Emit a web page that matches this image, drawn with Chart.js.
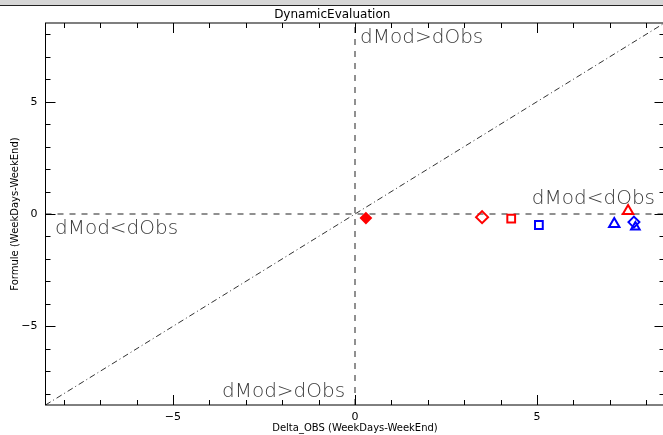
<!DOCTYPE html>
<html>
<head>
<meta charset="utf-8">
<title>DynamicEvaluation</title>
<script src="https://cdn.jsdelivr.net/npm/chart.js@4.4.1/dist/chart.umd.min.js"></script>
<style>
  html, body { margin: 0; padding: 0; background: #fff; overflow: hidden; }
  .topbar { height: 5px; background: #d6d6d6; border-bottom: 1px solid #222; }
  .chart-wrap { width: 666px; height: 429px; }
</style>
</head>
<body>
<div class="topbar"></div>
<div class="chart-wrap"><canvas id="chartEval" width="666" height="429"></canvas></div>
<script>
// =========================================
// Dynamic evaluation – weekday vs weekend deltas
// =========================================

// ---- Data ----
const axisRange   = [-8.5, 8.5];
const labelTicks  = [-5, 0, 5];
const minorTicks  = [-8, -7, -6, -5, -4, -3, -2, -1, 0, 1, 2, 3, 4, 5, 6, 7, 8];

// red run: obs delta / model delta
const redObs  = [0.30, 3.49, 4.29, 7.50];
const redMod  = [-0.18, -0.14, -0.21, 0.13];

// blue run
const blueObs = [5.05, 7.12, 7.66, 7.70];
const blueMod = [-0.49, -0.45, -0.36, -0.58];

// quadrant captions
const quadText = ['dMod>dObs', 'dMod<dObs', 'dMod<dObs', 'dMod>dObs'];
const quadX    = [0.14, -8.24, 8.24, -0.27];
const quadY    = [7.83, -0.67, 0.67, -7.92];
const quadAlign = ['left', 'left', 'right', 'right'];

// ---- Marker styles ----
const redShapes  = ['rectRot', 'rectRot', 'rect', 'triangle'];
const redFill    = ['#ff0000', 'rgba(0,0,0,0)', 'rgba(0,0,0,0)', 'rgba(0,0,0,0)'];
const redSize    = [5, 6, 5.5, 6];
const blueShapes = ['rect', 'triangle', 'rectRot', 'triangle'];
const blueSize   = [5.5, 6, 5.5, 5];

function toPoints(xs, ys) {
  return xs.map(function (x, i) { return { x: x, y: ys[i] }; });
}

// ---- Box, inward ticks and captions ----
const framePlugin = {
  id: 'frameTicks',
  beforeDatasetsDraw(chart) {
    const ctx = chart.ctx;
    const xs = chart.scales.x, ys = chart.scales.y;
    ctx.save();
    ctx.fillStyle = '#3a3a3a';
    ctx.font = '200 20px "DejaVu Sans"';
    ctx.textBaseline = 'middle';
    quadText.forEach(function (t, i) {
      ctx.textAlign = quadAlign[i];
      ctx.fillText(t, xs.getPixelForValue(quadX[i]), ys.getPixelForValue(quadY[i]));
    });
    ctx.restore();
  },
  afterDatasetsDraw(chart) {
    const ctx = chart.ctx;
    const a = chart.chartArea;
    const xs = chart.scales.x, ys = chart.scales.y;
    ctx.save();
    ctx.strokeStyle = '#000';
    ctx.lineWidth = 1;
    ctx.strokeRect(a.left, a.top, a.right - a.left, a.bottom - a.top);
    ctx.beginPath();
    minorTicks.forEach(function (v) {
      const len = (v % 5 === 0) ? 10 : 5;
      const px = Math.round(xs.getPixelForValue(v)) + 0.5;
      const py = Math.round(ys.getPixelForValue(v)) + 0.5;
      ctx.moveTo(px, a.bottom); ctx.lineTo(px, a.bottom - len);
      ctx.moveTo(px, a.top);    ctx.lineTo(px, a.top + len);
      ctx.moveTo(a.left, py);   ctx.lineTo(a.left + len, py);
      ctx.moveTo(a.right, py);  ctx.lineTo(a.right - len, py);
    });
    ctx.stroke();
    ctx.restore();
  }
};

const tickFont = { family: 'DejaVu Sans', size: 11 };
function fmtTick(v) { return v < 0 ? '\u2212' + Math.abs(v) : String(v); }
function fixedTicks(s) { s.ticks = labelTicks.map(function (v) { return { value: v }; }); }

new Chart(document.getElementById('chartEval').getContext('2d'), {
  type: 'scatter',
  data: {
    datasets: [
      {
        label: 'red',
        data: toPoints(redObs, redMod),
        pointStyle: redShapes,
        pointRadius: redSize,
        pointBackgroundColor: redFill,
        pointBorderColor: '#ff0000',
        pointBorderWidth: 2,
        order: 1
      },
      {
        label: 'blue',
        data: toPoints(blueObs, blueMod),
        pointStyle: blueShapes,
        pointRadius: blueSize,
        pointBackgroundColor: 'rgba(0,0,0,0)',
        pointBorderColor: '#0000ff',
        pointBorderWidth: 2,
        order: 0
      },
      {
        type: 'line',
        label: '1:1',
        data: toPoints(axisRange, axisRange),
        borderColor: '#333',
        borderWidth: 1,
        borderDash: [6, 3, 1, 3],
        pointRadius: 0,
        order: 5
      },
      {
        type: 'line',
        label: 'y0',
        data: toPoints(axisRange, [0, 0]),
        borderColor: '#222',
        borderWidth: 1,
        borderDash: [6, 6],
        pointRadius: 0,
        order: 5
      },
      {
        type: 'line',
        label: 'x0',
        data: toPoints([0, 0], axisRange),
        borderColor: '#222',
        borderWidth: 1,
        borderDash: [6, 6],
        pointRadius: 0,
        order: 5
      }
    ]
  },
  options: {
    responsive: false,
    animation: false,
    layout: { autoPadding: false, padding: { left: 0, right: 1.5, top: 0, bottom: 0 } },
    plugins: {
      legend: { display: false },
      tooltip: { enabled: false },
      title: {
        display: true,
        text: 'DynamicEvaluation',
        color: '#000',
        font: { family: 'DejaVu Sans', size: 12, weight: 'normal' },
        padding: { top: 1.5, bottom: 1.1 }
      }
    },
    scales: {
      x: {
        type: 'linear',
        min: axisRange[0],
        max: axisRange[1],
        grid: { display: false, drawTicks: false },
        border: { display: false },
        afterBuildTicks: fixedTicks,
        afterFit: function (s) { s.height = 30; s.paddingLeft = 0; s.paddingRight = 0; },
        ticks: { color: '#000', font: tickFont, padding: 6, maxRotation: 0, callback: fmtTick },
        title: {
          display: true,
          text: 'Delta_OBS (WeekDays-WeekEnd)',
          color: '#000',
          font: { family: 'DejaVu Sans', size: 10 },
          padding: { top: 0, bottom: 1 }
        }
      },
      y: {
        type: 'linear',
        min: axisRange[0],
        max: axisRange[1],
        grid: { display: false, drawTicks: false },
        border: { display: false },
        afterBuildTicks: fixedTicks,
        afterFit: function (s) { s.width = 45.5; s.paddingTop = 0; s.paddingBottom = 0; },
        ticks: { color: '#000', font: tickFont, padding: 8, callback: fmtTick },
        title: {
          display: true,
          text: 'Formule (WeekDays-WeekEnd)',
          color: '#000',
          font: { family: 'DejaVu Sans', size: 10 },
          padding: { top: 9, bottom: 0 }
        }
      }
    }
  },
  plugins: [framePlugin]
});
</script>
</body>
</html>
